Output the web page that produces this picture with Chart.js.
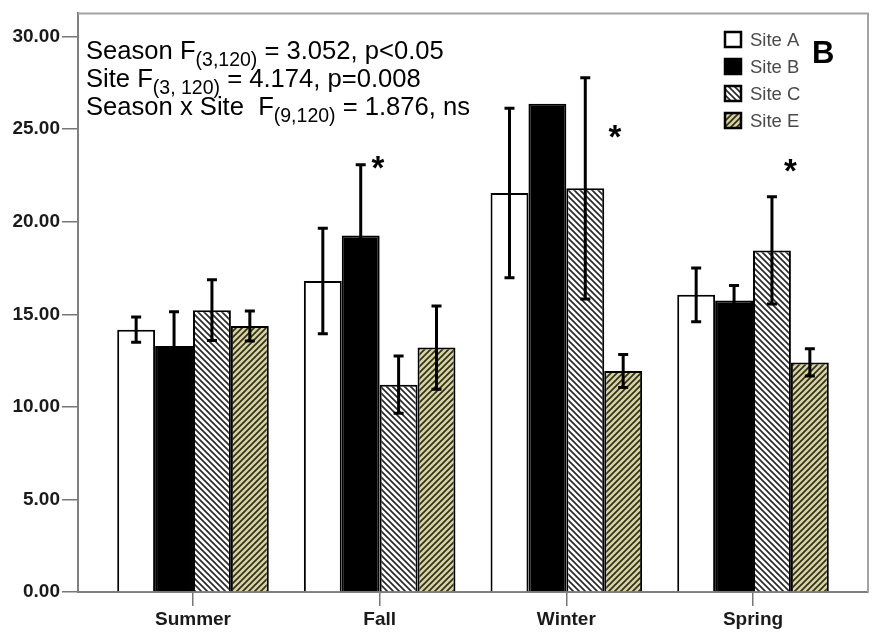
<!DOCTYPE html>
<html><head><meta charset="utf-8">
<script src="https://cdn.jsdelivr.net/npm/chart.js@4/dist/chart.umd.min.js"></script>
<style>html,body{margin:0;padding:0;background:#fff}#wrap{width:872px;height:635px;position:relative}</style>
</head><body><div id="wrap"><canvas id="c"></canvas></div>
<script>
// ---- data ----
const categories = ['Summer', 'Fall', 'Winter', 'Spring'];
const siteNames = ['Site A', 'Site B', 'Site C', 'Site E'];
const siteA = [14.17, 16.8, 21.55, 16.05];
const siteB = [13.28, 19.25, 26.37, 15.75];
const siteC = [15.22, 11.2, 21.8, 18.45];
const siteE = [14.37, 13.2, 11.94, 12.4];
const errA = [0.68, 2.85, 4.58, 1.45];
const errB = [1.85, 3.83, 0, 0.8];
const errC = [1.64, 1.55, 5.98, 2.9];
const errE = [0.81, 2.25, 0.89, 0.74];
const yTicks = [0, 5, 10, 15, 20, 25, 30];
const starCategory = [0.99, 2.26, 3.2];
const starValue = [23.35, 25.0, 23.15];
const statLines = [
  ['Season F', '(3,120)', ' = 3.052, p<0.05'],
  ['Site F', '(3, 120)', ' = 4.174, p=0.008'],
  ['Season x Site  F', '(9,120)', ' = 1.876, ns']
];
const panelLetter = 'B';

const FONT = '"Liberation Sans", Arial, Helvetica, sans-serif';

function makePattern(bg, fg, dir, s, lw) {
  const c = document.createElement('canvas'); c.width = s; c.height = s;
  const x = c.getContext('2d');
  x.fillStyle = bg; x.fillRect(0, 0, s, s);
  x.strokeStyle = fg; x.lineWidth = lw; x.lineCap = 'square';
  x.beginPath();
  if (dir === '/') {
    x.moveTo(0, s); x.lineTo(s, 0);
    x.moveTo(-1, 1); x.lineTo(1, -1);
    x.moveTo(s - 1, s + 1); x.lineTo(s + 1, s - 1);
  } else {
    x.moveTo(0, 0); x.lineTo(s, s);
    x.moveTo(-1, s - 1); x.lineTo(1, s + 1);
    x.moveTo(s - 1, -1); x.lineTo(s + 1, 1);
  }
  x.stroke();
  return x.createPattern(c, 'repeat');
}
const ctx0 = document.getElementById('c').getContext('2d');
const patC = makePattern('#ffffff', '#2a2a2a', '\\', 6, 1.7);
const patE = makePattern('#d9d49b', '#2e2e26', '/', 6, 1.7);

const seriesVals = [siteA, siteB, siteC, siteE];
const seriesErr = [errA, errB, errC, errE];
const fills = ['#ffffff', '#000000', patC, patE];

const datasets = seriesVals.map((vals, k) => ({
  label: siteNames[k],
  data: vals.map((v, i) => ({ x: i, y: v })),
  backgroundColor: fills[k],
  borderColor: '#000',
  borderWidth: 2,
  borderSkipped: 'start',
  categoryPercentage: 0.812,
  barPercentage: 1.0
}));

const decoPlugin = {
  id: 'deco',
  beforeDatasetsDraw(chart) {
    const { ctx, chartArea: a } = chart;
    ctx.save();
    ctx.strokeStyle = '#a3a3a3'; ctx.lineWidth = 2;
    ctx.beginPath();
    ctx.moveTo(a.left, a.top); ctx.lineTo(a.right, a.top); ctx.lineTo(a.right, a.bottom);
    ctx.stroke();
    ctx.restore();
  },
  afterDatasetsDraw(chart) {
    const { ctx } = chart;
    const ys = chart.scales.y, xs = chart.scales.x;
    ctx.save();
    // error bars
    chart.data.datasets.forEach((ds, di) => {
      const meta = chart.getDatasetMeta(di);
      meta.data.forEach((bar, i) => {
        const e = seriesErr[di][i];
        if (!e) return;
        const v = ds.data[i].y;
        const yt = ys.getPixelForValue(v + e), yb = ys.getPixelForValue(v - e);
        ctx.strokeStyle = '#000'; ctx.lineWidth = 3; ctx.lineCap = 'butt';
        ctx.beginPath();
        ctx.moveTo(bar.x, yt); ctx.lineTo(bar.x, yb);
        ctx.moveTo(bar.x - 5, yt); ctx.lineTo(bar.x + 5, yt);
        ctx.moveTo(bar.x - 5, yb); ctx.lineTo(bar.x + 5, yb);
        ctx.stroke();
      });
    });
    // significance stars
    ctx.fillStyle = '#000';
    ctx.font = 'bold 33px ' + FONT;
    ctx.textAlign = 'center'; ctx.textBaseline = 'alphabetic';
    starCategory.forEach((c, i) => {
      ctx.fillText('*', xs.getPixelForValue(c), ys.getPixelForValue(starValue[i]) + 19);
    });
    // stats text
    ctx.textAlign = 'left';
    const base = [59, 87, 115];
    statLines.forEach((parts, i) => {
      let x = 86;
      ctx.font = '25.6px ' + FONT;
      ctx.fillText(parts[0], x, base[i]); x += ctx.measureText(parts[0]).width;
      ctx.font = '19.5px ' + FONT;
      ctx.fillText(parts[1], x, base[i] + 7); x += ctx.measureText(parts[1]).width;
      ctx.font = '25.6px ' + FONT;
      ctx.fillText(parts[2], x, base[i]);
    });
    // panel letter
    ctx.font = 'bold 31px ' + FONT;
    ctx.fillText(panelLetter, 812, 63);
    // legend
    const ly = [39.5, 66.5, 93.5, 120.5];
    chart.data.datasets.forEach((ds, i) => {
      ctx.fillStyle = ds.backgroundColor;
      ctx.fillRect(725, ly[i] - 7.5, 16, 15);
      ctx.strokeStyle = '#000'; ctx.lineWidth = 2.5;
      ctx.strokeRect(725, ly[i] - 7.5, 16, 15);
      ctx.fillStyle = '#4a4a4a';
      ctx.font = '18.5px ' + FONT;
      ctx.textBaseline = 'middle';
      ctx.fillText(ds.label, 750, ly[i] + 1);
      ctx.textBaseline = 'alphabetic';
    });
    ctx.restore();
  }
};

new Chart(ctx0, {
  type: 'bar',
  data: { datasets },
  options: {
    responsive: true,
    maintainAspectRatio: false,
    animation: false,
    layout: { padding: { top: 13, right: 4, left: 0, bottom: 0 } },
    plugins: { legend: { display: false }, tooltip: { enabled: false } },
    scales: {
      x: {
        type: 'linear',
        min: -0.616, max: 3.616,
        offset: false,
        afterBuildTicks: s => { s.ticks = categories.map((_, i) => ({ value: i })); },
        afterFit: s => { s.height = 43; },
        grid: { offset: false, drawOnChartArea: false, drawTicks: true, tickLength: 14, color: '#777', lineWidth: 1.5 },
        border: { display: true, color: '#7f7f7f', width: 2 },
        ticks: {
          padding: 2,
          color: '#1a1a1a',
          font: { family: FONT, size: 19, weight: 'bold' },
          callback: v => categories[v] ?? ''
        }
      },
      y: {
        min: 0, max: 31.25,
        afterBuildTicks: s => { s.ticks = yTicks.map(v => ({ value: v })); },
        afterFit: s => { s.width = 78; },
        grid: { drawOnChartArea: false, drawTicks: true, tickLength: 16, color: '#777', lineWidth: 1.5 },
        border: { display: true, color: '#7f7f7f', width: 2 },
        ticks: {
          padding: 2,
          color: '#1a1a1a',
          font: { family: FONT, size: 19, weight: 'bold' },
          callback: v => Number(v).toFixed(2)
        }
      }
    }
  },
  plugins: [decoPlugin]
});
</script>
</body></html>
